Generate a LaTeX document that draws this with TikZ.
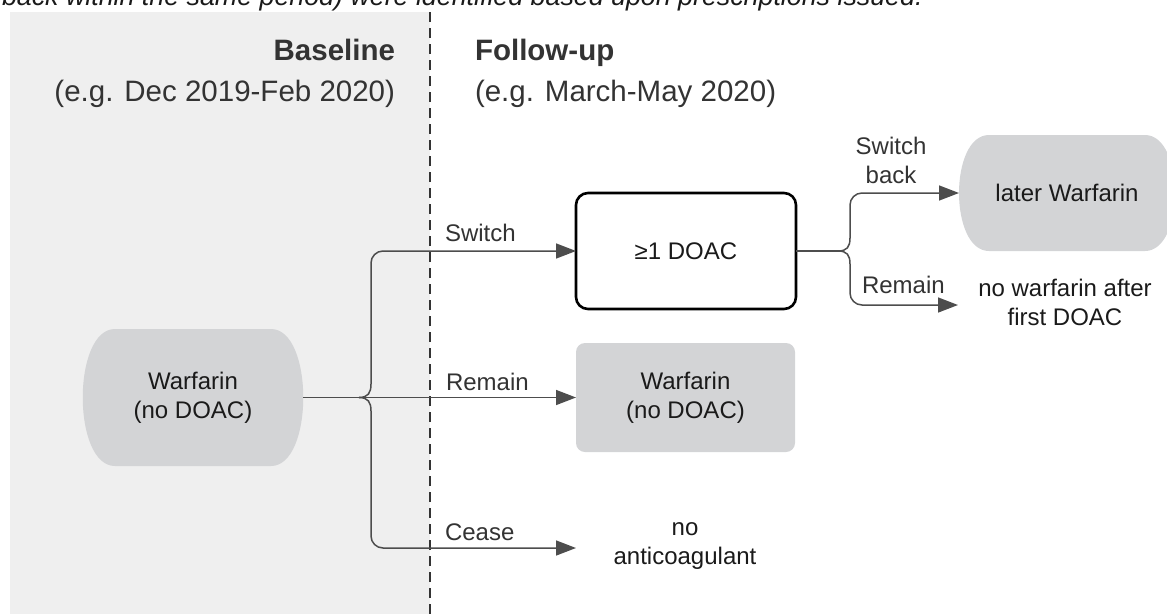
\documentclass[tikz,border=0pt]{standalone}
\usepackage{fontspec}
\setmainfont{Liberation Sans}
\usetikzlibrary{arrows.meta,backgrounds,calc}
\definecolor{bgray}{HTML}{EFEFEF}
\definecolor{nfill}{HTML}{D3D4D6}
\definecolor{connc}{HTML}{4D4D4D}
\definecolor{lblc}{HTML}{333333}
\definecolor{ntextc}{HTML}{1A1A1A}
\begin{document}
\begin{tikzpicture}[x=1pt,y=-1pt,
  every node/.style={font=\fontsize{24}{29}\selectfont, inner sep=0pt, outer sep=0pt},
  line/.style={draw=connc, line width=1.5pt},
  conn/.style={line, -{Triangle[length=20pt,width=15pt]}},
  lab/.style={text=lblc, anchor=west},
  ntxt/.style={text=ntextc, align=center},
  hdrbold/.style={text=lblc, font=\bfseries\fontsize{29.5}{34}\selectfont},
  hdr/.style={text=lblc, font=\fontsize{29.5}{34}\selectfont},
  doacbox/.style={ntxt, draw=black, line width=2.6pt, rounded corners=12pt, minimum width=220pt, minimum height=116pt},
  graybox/.style={ntxt, fill=nfill, rounded corners=9pt, minimum width=219pt, minimum height=109pt},
  stadium/.style={ntxt},
]
\useasboundingbox (0,0) rectangle (1167,614);
\clip (0,0) rectangle (1167,614);

% cropped caption line
\node[anchor=base west, text=ntextc, font=\itshape\fontsize{26.8}{32}\selectfont] (cap) at (2,5) {back within the same period) were identified based upon prescriptions issued.};

% headers
\node[hdrbold, anchor=base east] (basel) at (395,60) {Baseline};
\node[hdr, anchor=base east] (basep) at (395,101) {(e.g. Dec 2019-Feb 2020)};
\node[hdrbold, anchor=base west] (follow) at (475,60) {Follow-up};
\node[hdr, anchor=base west] (followp) at (475,101) {(e.g. March-May 2020)};

% nodes
\node[stadium, minimum width=220pt, minimum height=137pt] (w0) at (193,397.5) {Warfarin\\(no DOAC)};
\node[doacbox] (doac) at (686,251) {≥1 DOAC};
\node[graybox] (rem) at (685.5,397.5) {Warfarin\\(no DOAC)};
\node[stadium, minimum width=216pt, minimum height=116pt] (lw) at (1067,193) {later Warfarin};
\node[ntxt] (nw) at (1065,302) {no warfarin after\\first DOAC};
\node[ntxt] (na) at (685,546) {no\\anticoagulant};

\begin{scope}[on background layer]
  \fill[bgray] (10,12) rectangle (430,614);
  \coordinate (dtop) at (430,12);
  \coordinate (dbot) at (430,614);
  \draw[lblc, line width=1.4pt, dash pattern=on 10pt off 6pt] (dtop) -- (dbot);
  \fill[nfill] ($(w0.north west)+(32,0)$) -- ($(w0.north east)+(-32,0)$)
     .. controls ($(w0.north east)+(11,0)$) and ($(w0.south east)+(11,0)$) .. ($(w0.south east)+(-32,0)$)
     -- ($(w0.south west)+(32,0)$)
     .. controls ($(w0.south west)+(-11,0)$) and ($(w0.north west)+(-11,0)$) .. ($(w0.north west)+(32,0)$) -- cycle;
  \fill[nfill] ($(lw.north west)+(30,0)$) -- ($(lw.north east)+(-30,0)$)
     .. controls ($(lw.north east)+(10,0)$) and ($(lw.south east)+(10,0)$) .. ($(lw.south east)+(-30,0)$)
     -- ($(lw.south west)+(30,0)$)
     .. controls ($(lw.south west)+(-10,0)$) and ($(lw.north west)+(-10,0)$) .. ($(lw.north west)+(30,0)$) -- cycle;
\end{scope}

% left brace connectors
\coordinate (br) at (359,397.5);
\coordinate (bu) at (371,384);
\coordinate (bd) at (371,411);
\coordinate (ceaseend) at (576,548);
\draw[conn] (w0.east) -- (rem.west);
\draw[conn] (br) .. controls (368,397.5) and (371,393) .. (bu) [rounded corners=12pt] |- (doac.west);
\draw[conn] (br) .. controls (368,397.5) and (371,402) .. (bd) [rounded corners=12pt] |- (ceaseend);

\node[lab] (lswitch) at (445,233) {Switch};
\node[lab] (lremain) at (446,382) {Remain};
\node[lab] (lcease) at (445,532) {Cease};

% right brace connectors
\coordinate (br2) at (838,251);
\coordinate (bu2) at (850,238);
\coordinate (bd2) at (850,264);
\coordinate (nwend) at (958,305);
\draw[line] (doac.east) -- (br2);
\draw[conn] (br2) .. controls (847,251) and (850,247) .. (bu2) [rounded corners=12pt] |- (lw.west);
\draw[conn] (br2) .. controls (847,251) and (850,255) .. (bd2) [rounded corners=12pt] |- (nwend);

\node[text=lblc, align=center] (lsb) at (891,160) {Switch\\back};
\node[lab] (lrem2) at (862,285) {Remain};
\end{tikzpicture}
\end{document}
